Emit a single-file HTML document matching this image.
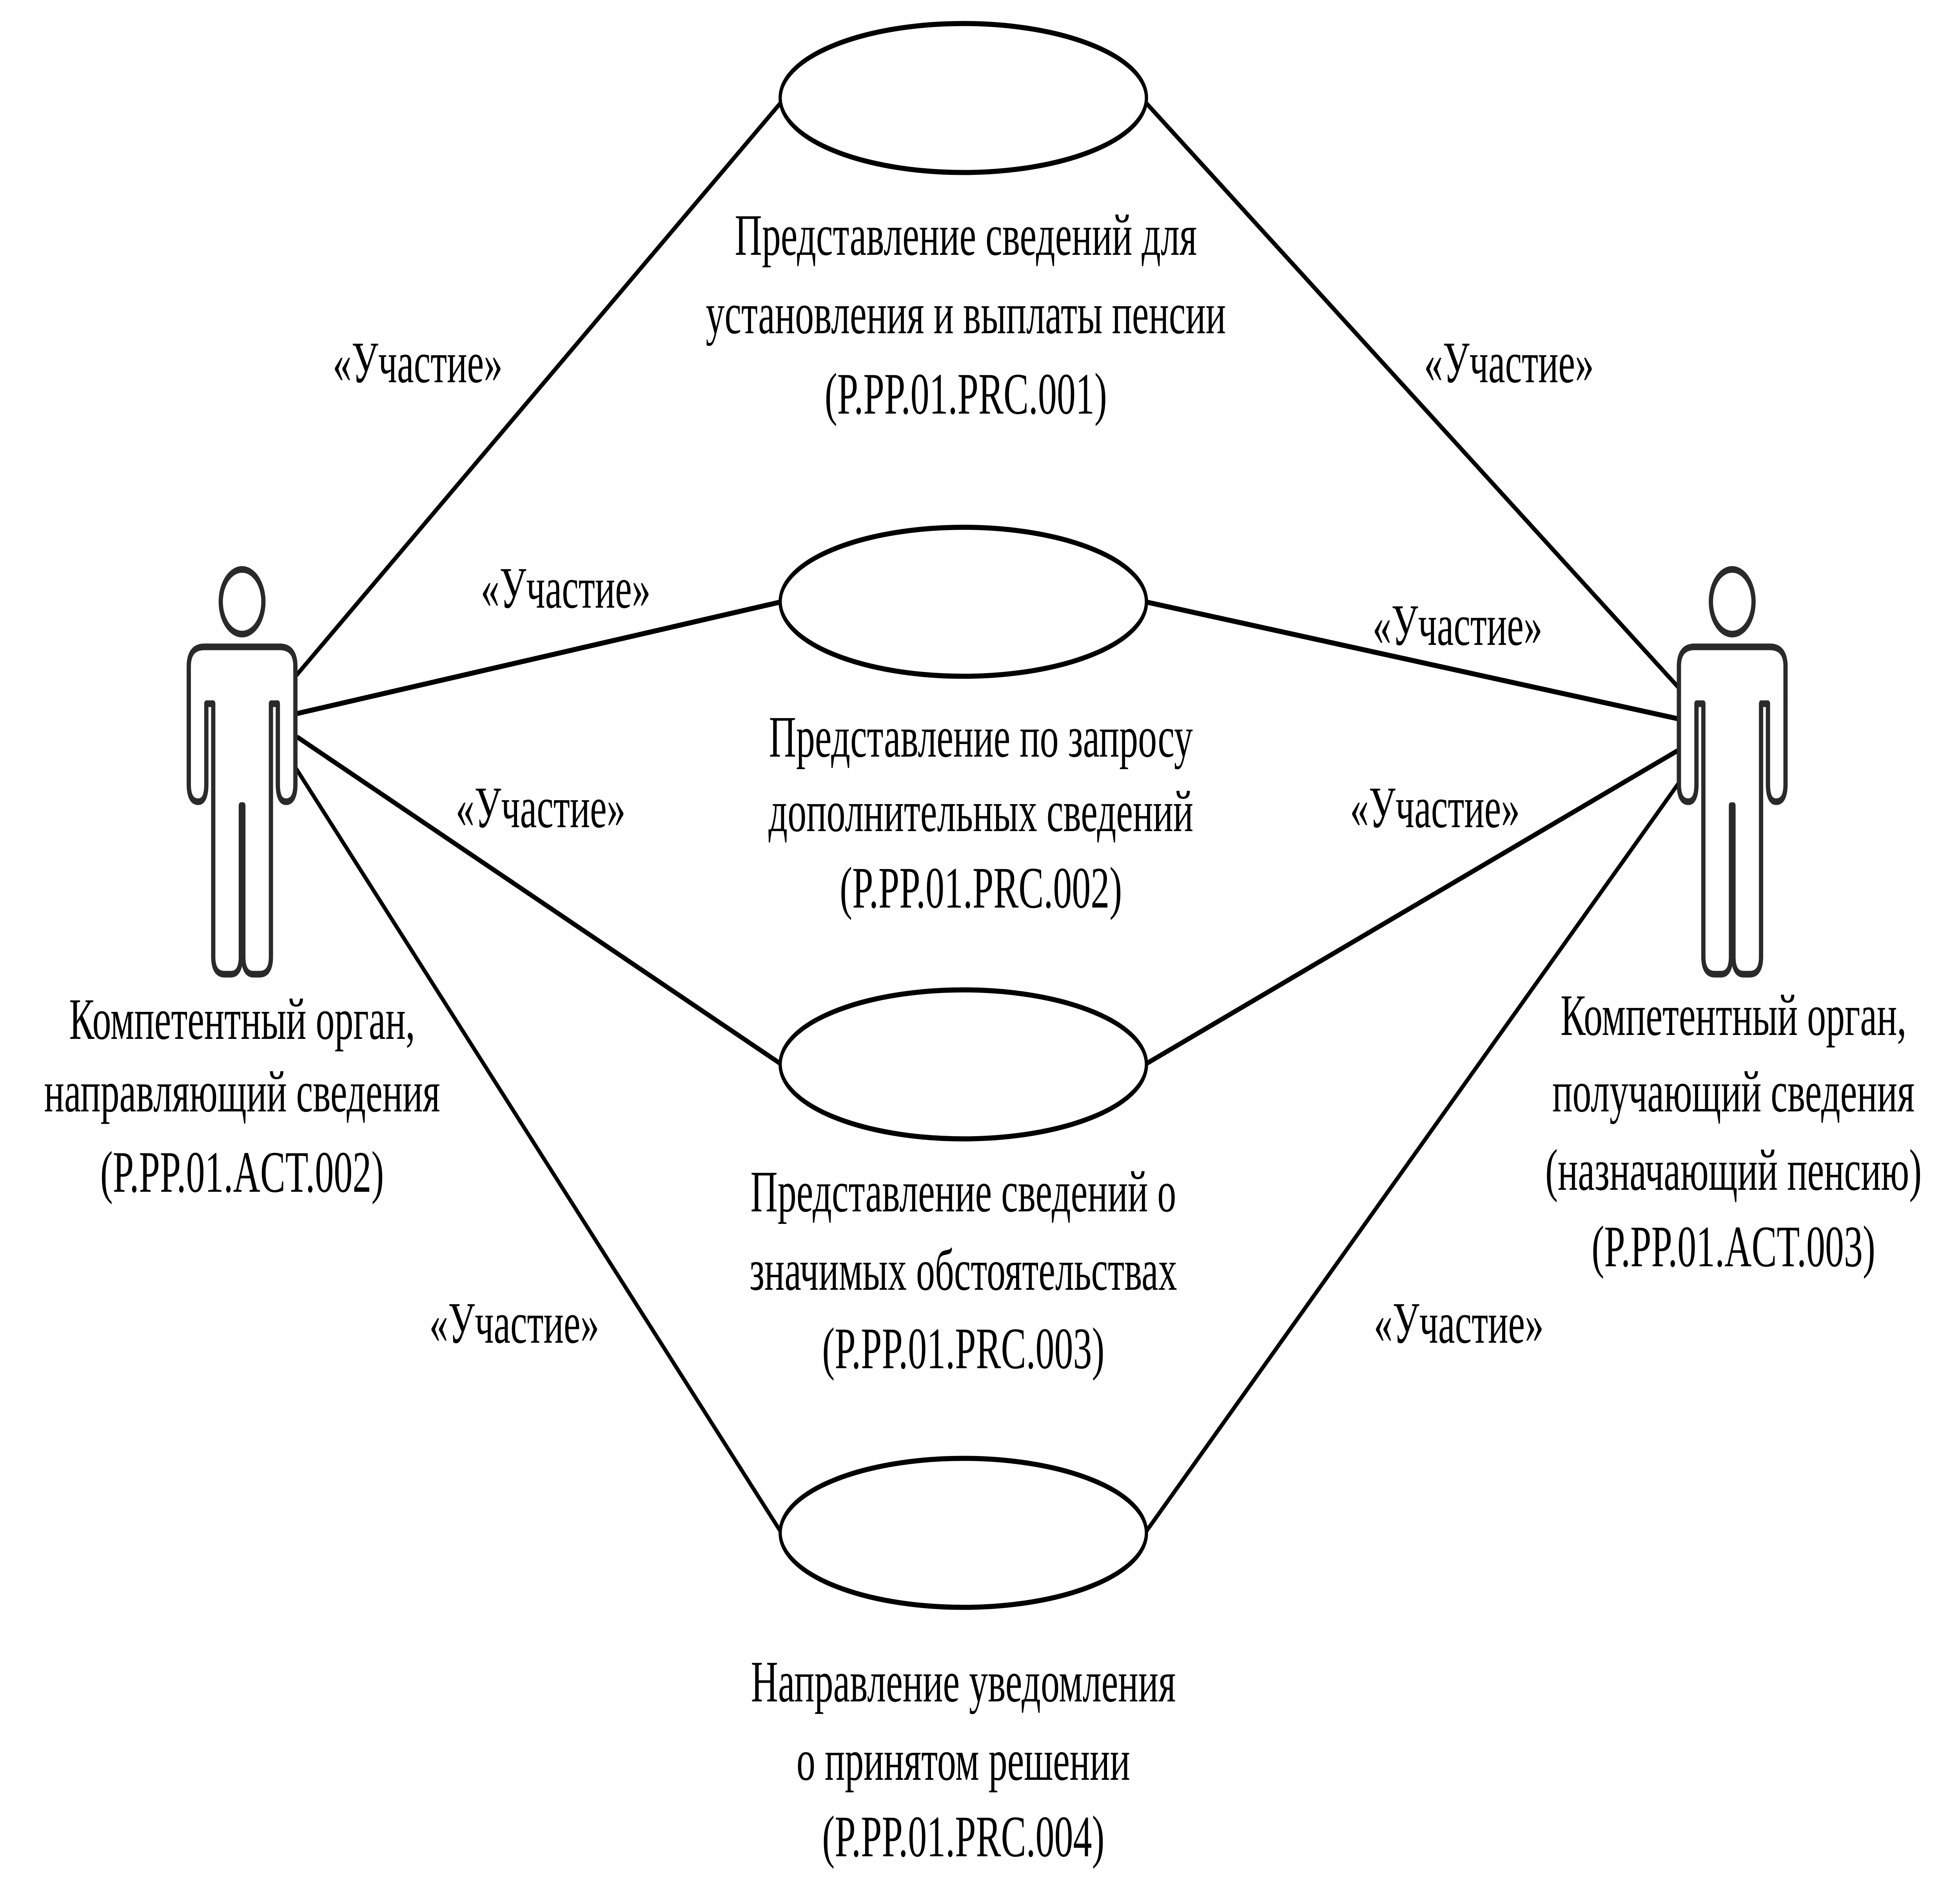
<!DOCTYPE html>
<html><head><meta charset="utf-8"><style>html,body{margin:0;padding:0;background:#fff;width:100%;height:100%;overflow:hidden}svg{display:block;position:fixed;left:0;top:0;width:100vw;height:100vh}</style></head><body>
<svg viewBox="0 0 1562.6 968.8" preserveAspectRatio="none" xmlns="http://www.w3.org/2000/svg" xmlns:xlink="http://www.w3.org/1999/xlink">
<defs>
<g id="actor">
<ellipse cx="0" cy="307" rx="17" ry="16.5" fill="#fff" stroke="#2a2a2a" stroke-width="3.4"/>
<path d="M-28.5,359 L-28.5,400 Q-28.5,409 -35,409 L-35,409 Q-42.5,409 -42.5,400 L-42.5,340 Q-42.5,330 -30,330 L30,330 Q42.5,330 42.5,340 L42.5,400 Q42.5,409 35,409 Q28.5,409 28.5,400 L28.5,359 L23,359 L23,488 Q23,497 14,497 L9,497 Q1,497 1,488 L1,411 L-1,411 L-1,488 Q-1,497 -9,497 L-14,497 Q-23,497 -23,488 L-23,359 Z" fill="#fff" stroke="#2a2a2a" stroke-width="3.4" stroke-linejoin="round"/>
</g>
</defs>
<g stroke="#000" stroke-width="2.6" fill="none">
<line x1="233" y1="347" x2="623" y2="52"/>
<line x1="237" y1="364" x2="623" y2="307"/>
<line x1="237" y1="376" x2="623" y2="543"/>
<line x1="236" y1="392" x2="623" y2="782"/>
<line x1="913" y1="52" x2="1340" y2="352"/>
<line x1="913" y1="307" x2="1340" y2="367"/>
<line x1="913" y1="543" x2="1340" y2="382"/>
<line x1="913" y1="782" x2="1340" y2="398"/>
</g>
<g fill="#fff" stroke="#000" stroke-width="2.6">
<ellipse cx="768" cy="50" rx="146" ry="38"/>
<ellipse cx="768" cy="307" rx="146" ry="38"/>
<ellipse cx="768" cy="543" rx="146" ry="38"/>
<ellipse cx="768" cy="782" rx="146" ry="38"/>
</g>
<use href="#actor" xlink:href="#actor" transform="translate(193,0)"/>
<use href="#actor" xlink:href="#actor" transform="translate(1381,0)"/>
<g font-family="Liberation Serif, serif" font-size="30" text-anchor="middle" fill="#000">
<text x="770" y="130">Представление сведений для</text>
<text x="770" y="170">установления и выплаты пенсии</text>
<text x="770" y="211">(P.PP.01.PRC.001)</text>
<text x="782" y="386">Представление по запросу</text>
<text x="782" y="424">дополнительных сведений</text>
<text x="782" y="463">(P.PP.01.PRC.002)</text>
<text x="768" y="618">Представление сведений о</text>
<text x="768" y="658">значимых обстоятельствах</text>
<text x="768" y="698">(P.PP.01.PRC.003)</text>
<text x="768" y="868">Направление уведомления</text>
<text x="768" y="908">о принятом решении</text>
<text x="768" y="947">(P.PP.01.PRC.004)</text>
<text x="193" y="530">Компетентный орган,</text>
<text x="193" y="567">направляющий сведения</text>
<text x="193" y="608">(P.PP.01.ACT.002)</text>
<text x="1382" y="528">Компетентный орган,</text>
<text x="1382" y="567">получающий сведения</text>
<text x="1382" y="607">(назначающий пенсию)</text>
<text x="1382" y="646">(P.PP.01.ACT.003)</text>
<text x="333" y="195">«Участие»</text>
<text x="451" y="310">«Участие»</text>
<text x="431" y="422">«Участие»</text>
<text x="410" y="685">«Участие»</text>
<text x="1203" y="195">«Участие»</text>
<text x="1162" y="329">«Участие»</text>
<text x="1144" y="422">«Участие»</text>
<text x="1163" y="685">«Участие»</text>
</g>
</svg>
</body></html>
